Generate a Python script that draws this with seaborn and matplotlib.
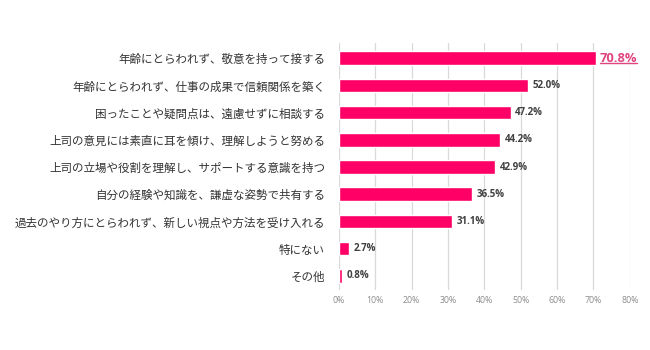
import matplotlib
matplotlib.use("Agg")
import matplotlib.pyplot as plt
import seaborn as sns
import pandas as pd
from matplotlib.lines import Line2D

categories = [
    "年齢にとらわれず、敬意を持って接する",
    "年齢にとらわれず、仕事の成果で信頼関係を築く",
    "困ったことや疑問点は、遠慮せずに相談する",
    "上司の意見には素直に耳を傾け、理解しようと努める",
    "上司の立場や役割を理解し、サポートする意識を持つ",
    "自分の経験や知識を、謙虚な姿勢で共有する",
    "過去のやり方にとらわれず、新しい視点や方法を受け入れる",
    "特にない",
    "その他",
]
values = [70.8, 52.0, 47.2, 44.2, 42.9, 36.5, 31.1, 2.7, 0.8]
xticks = [0, 10, 20, 30, 40, 50, 60, 70, 80]
xtick_labels = [f"{t}%" for t in xticks]

df = pd.DataFrame({"item": categories, "pct": values})

sns.set_theme(style="white")
plt.rcParams["font.family"] = ["Noto Sans CJK JP", "DejaVu Sans"]

BAR = "#FF0066"
fig = plt.figure(figsize=(6.5, 3.5), dpi=100)
ax = fig.add_axes([0.5215, 0.171, 0.969 - 0.5215, 0.877 - 0.171])

sns.barplot(data=df, x="pct", y="item", orient="h", color=BAR,
            saturation=1, width=0.5, ax=ax, zorder=3)

ax.set_xlim(0, 80)
ax.set_ylim(8.53, -0.56)
ax.set_xticks(xticks)
ax.set_xticklabels(xtick_labels, fontsize=6.3, color="#8C8C8C",
                   family=["Open Sans", "DejaVu Sans"])
ax.tick_params(axis="x", length=0, pad=4)
ax.tick_params(axis="y", length=0, pad=10, labelsize=8.3, labelcolor="#333333")
ax.set_xlabel("")
ax.set_ylabel("")
ax.grid(axis="x", color="#D9D9D9", linewidth=0.9, zorder=0)
ax.grid(axis="y", visible=False)
for s in ax.spines.values():
    s.set_visible(False)

fig.canvas.draw()
renderer = fig.canvas.get_renderer()

for i, v in enumerate(values):
    if i == 0:
        t = ax.text(v + 0.9, i, f"{v:.1f}%", va="center", ha="left",
                    fontsize=9.3, color="#E0457F", fontweight="bold",
                    family=["Open Sans", "DejaVu Sans"])
        fig.canvas.draw()
        bb = t.get_window_extent(renderer).transformed(fig.transFigure.inverted())
        fig.add_artist(Line2D([bb.x0, bb.x1], [bb.y0 + 0.004, bb.y0 + 0.004],
                              transform=fig.transFigure, color="#E0457F",
                              linewidth=1.0))
    else:
        ax.text(v + 1.3, i, f"{v:.1f}%", va="center", ha="left",
                fontsize=7, color="#404040", fontweight="bold",
                family=["Open Sans", "DejaVu Sans"])

fig.savefig("out.png", dpi=100, facecolor="white")
